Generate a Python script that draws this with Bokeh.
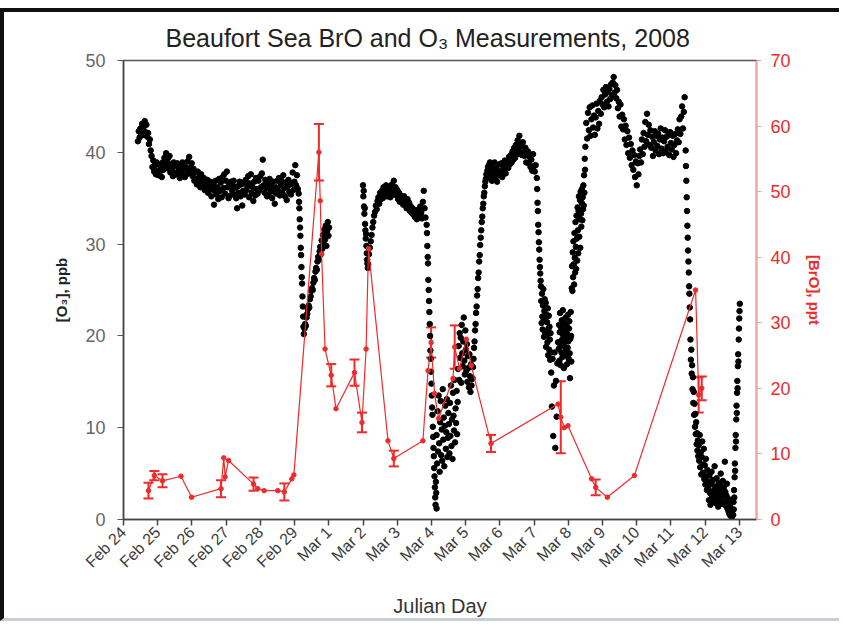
import math
import numpy as np
from bokeh.plotting import figure
from bokeh.models import (Range1d, LinearAxis, FixedTicker, ColumnDataSource,
                          Whisker, TeeHead)
from bokeh.embed import file_html
from bokeh.resources import INLINE

FONT = "Liberation Sans"
RED = "#ee2a2a"

# ---- x axis: Julian day (day of year, 2008) and its date labels ----
day_ticks = list(range(55, 74))
day_labels = ["Feb 24", "Feb 25", "Feb 26", "Feb 27", "Feb 28", "Feb 29",
              "Mar 1", "Mar 2", "Mar 3", "Mar 4", "Mar 5", "Mar 6", "Mar 7",
              "Mar 8", "Mar 9", "Mar 10", "Mar 11", "Mar 12", "Mar 13"]

# ---- ozone record, ppb: runs of (start day, sampling step in days, values) ----
o3_runs = [
    (55.42, 0.025, [
        41.2, 42.3, 41.6, 42.6, 42.0, 43.1, 41.9, 42.8, 43.4, 42.2, 43.0, 41.7,
        42.1, 40.9, 41.4, 40.2, 39.6, 38.4, 39.1, 37.9, 38.6, 37.6, 38.9, 38.0,
        37.5, 38.7, 37.9, 38.4, 37.3, 38.9, 38.1, 39.4, 38.6, 39.9, 38.8, 39.3,
        38.2, 39.6, 37.8, 38.7, 38.1, 37.4, 38.9, 37.7, 38.5, 37.6, 38.8, 37.9,
        38.3, 37.2, 38.6, 37.8, 38.9, 37.5, 38.2, 37.3, 38.4, 37.6, 39.0, 38.1,
        39.5, 38.3, 37.7, 38.8, 37.4, 38.2, 36.9, 37.8, 37.1, 36.5, 37.9, 36.8,
        37.3, 36.2, 37.6, 36.7, 36.4, 37.2, 35.9, 36.8, 36.1, 37.0, 35.6, 36.5,
        35.9, 36.8, 35.2, 36.3, 36.6, 34.3, 35.8, 36.9, 35.4, 36.2, 34.9, 37.1,
        35.8, 36.7, 35.1, 37.3, 36.1, 37.6, 35.5, 36.9, 37.9, 36.2, 35.0, 36.6,
        35.3, 36.8, 35.9, 36.4, 36.9, 35.4, 36.1, 35.0, 33.9, 36.3, 35.6, 36.8,
        35.2, 36.5, 34.2, 35.8, 36.7, 35.4, 37.0, 35.9, 36.3, 37.4, 35.1, 36.6,
        37.6, 35.6, 36.2, 34.7, 36.8, 35.3, 37.2, 36.0, 35.5, 36.9, 35.9, 37.4,
        36.2, 37.7, 39.2, 36.4, 35.6, 37.0, 36.1, 35.2, 36.6, 35.4, 37.1, 35.9,
        36.3, 35.0, 36.8, 35.7, 34.4, 36.2, 35.5, 36.9, 35.8, 37.2, 35.3, 36.4,
        36.9, 35.6, 37.5, 36.1, 35.2, 36.7, 34.8, 36.3, 37.0, 35.7, 36.5, 35.4,
        36.6, 37.8, 35.9, 36.8, 38.6, 36.4, 37.5, 36.0]),
    (60.12, 0.01, [
        35.5, 34.6, 33.9, 32.7, 31.8, 30.9, 29.6, 28.8, 27.5, 26.4, 25.7, 24.3,
        23.2, 22.1, 21.0]),
    (60.27, 0.02, [
        20.2, 20.8, 21.3, 21.1, 22.0, 22.4, 22.9, 23.3, 23.1, 24.0, 24.3, 24.9,
        25.2, 25.0, 25.8, 26.3, 26.1, 27.0, 27.4, 27.2, 28.1, 28.6, 28.3, 29.2,
        29.7, 28.9, 30.4, 29.5, 31.0, 30.1, 31.6, 30.5, 32.0, 29.8, 31.4, 32.4,
        30.9, 31.8]),
    (62.00, 0.01, [
        36.4, 35.2, 35.8, 34.1, 33.3, 33.9, 32.2, 31.5, 30.6, 31.1, 29.8, 29.0,
        28.3, 27.9, 27.4]),
    (62.15, 0.025, [
        27.8, 28.9, 29.6, 30.3, 31.0, 31.8, 32.4, 33.1, 33.5, 34.2, 33.8, 34.7,
        35.1, 34.4, 35.6, 34.9, 35.8, 35.0, 36.2, 35.4, 35.7, 36.4, 35.2, 36.0,
        35.5, 36.3, 35.1, 35.9, 36.5, 35.4, 36.9, 35.8, 36.2, 35.3, 35.9, 34.9,
        35.6, 34.6, 35.3, 34.8, 35.0, 34.3, 35.2, 34.5, 34.7, 33.9, 34.9, 34.2,
        34.5, 33.6, 34.1, 33.4, 33.9, 33.2, 33.7, 32.9, 33.5, 32.7, 33.3, 33.8,
        33.0, 34.1, 33.4, 32.8, 34.6, 35.8, 33.9, 32.9]),
    (63.86, 0.01, [
        32.1, 31.2, 29.8, 28.6, 27.9, 26.1, 25.0, 23.8, 22.6, 21.3, 20.0, 18.4,
        17.5, 16.1, 14.8, 13.5, 12.2, 11.4, 10.1, 9.0, 7.8, 6.9, 5.6, 4.7, 3.5,
        2.4, 1.6, 4.1, 2.9, 1.2]),
    (64.15, 0.015, [
        9.2, 6.1, 11.8, 7.4, 13.5, 8.3, 5.2, 10.6, 12.9, 7.0, 9.8, 6.4, 14.2,
        8.7, 11.1, 5.8, 10.2, 12.4, 7.7, 9.5, 13.1, 6.8, 8.9, 11.6, 10.4, 7.2,
        12.7, 9.1, 14.6, 8.0, 10.9, 6.6, 13.8, 11.3, 9.7, 15.2, 8.4, 12.1, 10.5,
        14.0, 9.3, 12.8]),
    (64.78, 0.015, [
        16.4, 18.9, 15.2, 20.3, 17.6, 19.8, 14.9, 21.2, 18.1, 16.7, 19.4, 22.0,
        17.3, 15.8, 20.6, 18.5, 16.2, 19.1, 15.0, 17.8, 16.5, 14.4, 18.0, 15.6,
        13.9, 16.9, 14.6, 15.3]),
    (65.20, 0.015, [
        15.4, 16.6, 17.5, 18.7, 19.4, 20.6, 21.3, 22.5, 23.2, 24.4, 25.1, 26.3,
        26.9, 28.1, 28.8, 29.9, 30.7, 31.5, 32.4, 33.0, 33.9, 34.4, 35.2, 35.6,
        36.3, 36.8, 37.1, 37.6, 37.2, 38.0, 38.4, 37.7, 38.6, 38.1, 38.9]),
    (65.72, 0.025, [
        37.4, 38.6, 36.9, 38.1, 37.6, 38.9, 37.2, 38.3, 36.8, 38.0, 37.5, 38.7,
        37.9, 38.8, 37.3, 38.5, 38.2, 39.1, 37.7, 38.6, 39.0, 38.3, 39.5, 38.7,
        39.7, 38.9, 40.1, 39.2, 40.5, 39.4, 40.8, 39.8, 41.3, 40.2, 41.8, 40.6,
        40.9, 39.7, 41.1, 40.0, 39.6, 40.5, 38.9, 39.9, 40.1, 38.8, 39.5, 38.4,
        39.2, 38.0, 39.8, 38.5, 37.9, 38.6]),
    (67.08, 0.01, [
        37.2, 36.0, 34.5, 33.6, 32.1, 31.3, 30.2, 29.4, 28.3, 27.5, 26.8, 26.0,
        25.4]),
    (67.21, 0.01, [
        23.8, 21.4, 24.6, 22.1, 20.7, 23.3, 25.1, 21.8, 19.9, 22.7, 24.0, 20.4,
        21.9, 23.6, 18.8, 22.3, 20.1, 21.5, 19.3, 23.0, 17.9, 20.8, 22.2, 18.5,
        21.0, 19.6, 17.4, 20.3, 18.2]),
    (67.50, 0.02, [
        16.0, 12.3, 17.5, 9.1, 14.6, 18.2, 7.8, 15.1, 11.2, 17.0, 19.3]),
    (67.72, 0.01, [
        18.6, 21.2, 17.3, 20.4, 22.5, 19.1, 16.8, 20.9, 18.2, 21.7, 19.6, 17.7,
        22.8, 20.1, 18.9, 16.5, 21.4, 19.3, 20.6, 17.9, 22.0, 18.4, 19.9, 21.1,
        16.9, 20.2, 18.7, 22.3, 19.4, 17.5, 20.8, 21.6, 18.1, 15.4, 19.7, 22.6,
        20.0, 17.2]),
    (68.10, 0.01, [
        25.2, 27.6, 24.9, 29.1, 26.4, 30.3, 27.8, 25.6, 31.2, 28.5, 26.9, 32.4,
        29.7, 27.3, 33.1, 30.6, 28.2, 34.0, 31.5, 29.0, 33.6, 35.2, 30.8, 32.7,
        34.8, 29.6, 35.7, 33.3, 31.9, 34.5, 36.0, 32.6, 35.1, 33.8, 36.4, 34.2,
        37.5, 35.6, 39.3, 38.1]),
    (68.50, 0.025, [
        40.6, 43.2, 41.5, 44.3, 42.4, 44.9, 41.8, 43.6, 45.1, 42.7, 44.0, 41.9,
        43.8, 45.3, 42.6, 44.5, 43.1, 45.6, 44.2, 46.0, 45.2, 46.8, 44.9, 46.3,
        47.1, 45.5, 46.6, 45.0, 46.9, 45.8, 47.4, 46.2, 47.6, 48.2, 46.5, 47.3,
        45.9, 46.8, 44.8, 45.5, 43.9, 45.2, 42.8, 44.1, 42.5, 43.6, 41.4, 42.9,
        40.8, 42.3, 39.9, 41.6, 39.4, 40.9, 38.6, 40.2, 38.1, 39.7, 37.3, 39.0,
        36.4, 38.8, 37.6, 39.6, 40.3, 38.9, 41.4, 39.8, 42.1, 40.6, 43.3, 41.2,
        44.2, 41.9, 43.0, 40.8, 42.4, 40.5, 41.7, 39.6, 41.1, 42.3, 40.2, 41.8,
        40.7, 42.0, 39.8, 41.4, 42.6, 40.4, 41.6, 39.9, 41.2, 42.4, 40.1, 41.7,
        40.6, 41.9, 39.7, 42.2, 41.0, 40.3, 41.8, 39.5, 40.8, 42.0, 39.9, 41.3,
        42.5, 41.1, 43.6, 42.0, 43.9, 45.0, 42.6, 44.4, 46.0]),
    (71.43, 0.01, [
        40.2, 38.5, 36.9, 35.1, 33.6, 32.0, 30.7, 29.3, 28.1, 26.9, 25.4, 24.6,
        23.1, 21.8]),
    (71.57, 0.012, [
        19.6, 17.4, 18.5, 15.9, 16.8, 14.2, 15.5, 12.7, 13.9, 11.4, 12.6, 10.1,
        11.5, 9.3, 10.6, 8.2, 9.4, 7.5, 8.6, 6.9]),
    (71.81, 0.015, [
        8.1, 6.4, 9.2, 5.7, 7.3, 4.9, 6.8, 8.5, 5.1, 6.0, 7.7, 4.4, 5.9, 3.8,
        6.6, 4.7, 3.2, 5.4, 4.1, 3.4, 2.1, 4.8, 2.9, 1.6, 3.9, 5.2, 2.6, 1.9,
        4.3, 3.1, 2.4, 5.8, 3.6, 1.8, 2.9, 4.5, 2.2, 3.3, 1.4, 4.0, 2.7, 3.8,
        1.9, 5.0, 2.5, 3.2, 1.7, 4.2, 2.8, 3.5, 2.0, 6.3, 3.0, 1.5, 2.6, 3.9,
        1.2, 2.3, 0.9, 1.8, 0.6, 1.4, 0.4, 2.1, 0.8, 0.3]),
    (72.82, 0.008, [
        0.5, 1.9, 1.1, 3.2, 2.4, 4.6, 6.1, 5.3, 7.8, 9.2, 8.5, 10.9, 12.4, 11.6,
        13.8, 15.1, 14.3, 16.7, 18.0, 17.2, 19.6, 20.8, 21.9, 22.7, 23.5]),
]

# ---- BrO, ppt (day, mixing ratio, error half-width; 0 = no error bar) ----
bro_jd = [55.73, 55.90, 56.14, 56.68, 56.99, 57.85, 57.93, 57.97, 58.07, 58.80,
          58.92, 59.11, 59.51, 59.70, 59.92, 59.98, 60.71, 60.75, 60.79, 60.89,
          61.07, 61.21, 61.75, 61.97, 62.09, 62.16, 62.73, 62.90, 63.75, 63.90,
          63.99, 64.09, 64.21, 64.63, 64.68, 64.82, 65.02, 65.16, 65.74, 67.70,
          67.78, 67.88, 67.99, 68.68, 68.80, 69.14, 69.93, 71.72, 71.81, 71.90]
bro_ppt = [4.4, 6.7, 5.9, 6.6, 3.4, 4.7, 9.4, 6.5, 9.0, 5.4,
           4.7, 4.4, 4.4, 4.2, 6.2, 6.8, 56.0, 48.6, 40.5, 26.0,
           22.0, 16.9, 22.4, 14.8, 26.0, 41.3, 12.0, 9.3, 12.0, 22.7,
           27.0, 19.2, 15.4, 21.5, 26.3, 23.0, 27.5, 23.5, 11.6, 17.6,
           15.6, 14.0, 14.3, 6.2, 4.9, 3.4, 6.7, 35.0, 19.0, 20.0]
bro_err = [1.2, 0.7, 1.0, 0, 0, 1.3, 0, 0, 0, 1.0,
           0, 0, 0, 1.3, 0, 0, 4.3, 0, 0, 0,
           1.7, 0, 2.0, 1.5, 0, 0, 0, 1.2, 0, 0,
           2.3, 0, 0, 0, 3.3, 0, 0, 0, 1.3, 0,
           5.5, 0, 0, 0, 1.2, 0, 0, 0, 2.7, 1.8]

# expand the ozone runs into time / value columns
o3_t, o3_v = [], []
for t0, dt, vals in o3_runs:
    o3_t.extend(t0 + dt * np.arange(len(vals)))
    o3_v.extend(vals)

# canvas sits inside a page frame: 4px rule on top and left, 8px top margin,
# thin grey rule along the bottom
p = figure(width=839, height=613,
           x_range=Range1d(55, 73.5), y_range=Range1d(0, 50),
           output_backend="svg", toolbar_location=None,
           min_border_left=119, min_border_right=87,
           min_border_top=48, min_border_bottom=106,
           background_fill_color="white", border_fill_color="white")
p.styles = {"margin-top": "8px", "border-top": "4px solid #111111",
            "border-left": "4px solid #111111",
            "border-bottom": "3px solid #c9cfd8"}
p.extra_y_ranges = {"bro": Range1d(0, 70)}

p.title.text = "Beaufort Sea BrO and O\u2083 Measurements, 2008"
p.title.align = "left"
p.title.offset = 42
p.title.standoff = 17
p.title.text_font = FONT
p.title.text_font_style = "normal"
p.title.text_font_size = "25px"
p.title.text_color = "#222222"

p.xgrid.visible = False
p.ygrid.visible = False
p.outline_line_color = "#555555"
p.outline_line_width = 1.5

# bottom axis
xa = p.xaxis[0]
xa.ticker = FixedTicker(ticks=day_ticks)
xa.major_label_overrides = {t: lab for t, lab in zip(day_ticks, day_labels)}
xa.major_label_orientation = math.pi / 4
xa.major_label_text_font = FONT
xa.major_label_text_font_size = "16px"
xa.major_label_text_color = "#3a3a3a"
xa.major_label_standoff = 4
xa.major_tick_in = 0
xa.major_tick_out = 6
xa.minor_tick_out = 0
xa.minor_tick_in = 0
xa.axis_line_color = "#444444"
xa.axis_line_width = 1.5
xa.major_tick_line_color = "#444444"
xa.major_tick_line_width = 1.5
xa.axis_label = "Julian Day"
xa.axis_label_text_font = FONT
xa.axis_label_text_font_style = "normal"
xa.axis_label_text_font_size = "20px"
xa.axis_label_text_color = "#333333"
xa.axis_label_standoff = 15

# left axis: ozone
ya = p.yaxis[0]
ya.ticker = FixedTicker(ticks=[0, 10, 20, 30, 40, 50])
ya.major_label_text_font = FONT
ya.major_label_text_font_size = "18px"
ya.major_label_text_color = "#666666"
ya.major_tick_in = 0
ya.major_tick_out = 6
ya.minor_tick_out = 0
ya.minor_tick_in = 0
ya.axis_line_color = "#444444"
ya.axis_line_width = 1.5
ya.major_tick_line_color = "#555555"
ya.major_label_standoff = 12
ya.axis_label = "[O\u2083], ppb"
ya.axis_label_text_font = FONT
ya.axis_label_text_font_style = "bold"
ya.axis_label_text_font_size = "15px"
ya.axis_label_text_color = "#222222"
ya.axis_label_standoff = 12

# right axis: BrO
ra = LinearAxis(y_range_name="bro", ticker=FixedTicker(ticks=[0, 10, 20, 30, 40, 50, 60, 70]))
ra.major_label_text_font = FONT
ra.major_label_text_font_size = "18px"
ra.major_label_text_color = RED
ra.major_tick_in = 0
ra.major_tick_out = 5
ra.minor_tick_out = 0
ra.minor_tick_in = 0
ra.axis_line_color = "#f4a0a0"
ra.axis_line_width = 1.2
ra.major_tick_line_color = "#f4a0a0"
ra.major_label_standoff = 9
ra.axis_label = "[BrO], ppt"
ra.axis_label_text_font = FONT
ra.axis_label_text_font_style = "bold"
ra.axis_label_text_font_size = "15px"
ra.axis_label_text_color = RED
ra.axis_label_standoff = 12
p.add_layout(ra, "right")

# ozone points
p.scatter(o3_t, o3_v, size=5.5, color="black", marker="circle")

# BrO line, markers and error bars
p.line(bro_jd, bro_ppt, y_range_name="bro", line_color=RED, line_width=1.2)
p.scatter(bro_jd, bro_ppt, y_range_name="bro", size=4.5, color=RED, marker="circle")

eb = [(x, y, e) for x, y, e in zip(bro_jd, bro_ppt, bro_err) if e > 0]
eb_src = ColumnDataSource(data=dict(
    x=[r[0] for r in eb],
    upper=[r[1] + r[2] for r in eb],
    lower=[r[1] - r[2] for r in eb]))
whisk = Whisker(source=eb_src, base="x", upper="upper", lower="lower",
                dimension="height", y_range_name="bro",
                line_color=RED, line_width=2,
                upper_head=TeeHead(size=10, line_color=RED, line_width=2),
                lower_head=TeeHead(size=10, line_color=RED, line_width=2))
p.add_layout(whisk)

open("out.html", "w").write(file_html(p, INLINE))
